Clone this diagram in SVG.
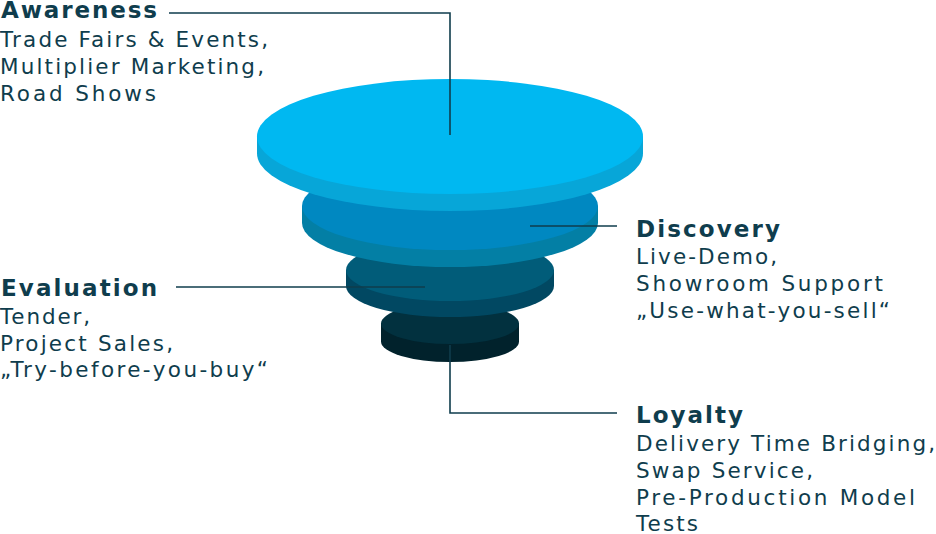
<svg xmlns="http://www.w3.org/2000/svg" width="936" height="534" viewBox="0 0 936 534">
<style>
  .h { font-family: "DejaVu Sans", "Open Sans", "Liberation Sans", sans-serif; font-weight: 700; font-size: 23px; fill: #0f3d4d; }
  .t { font-family: "DejaVu Sans", "Open Sans", "Liberation Sans", sans-serif; font-weight: 400; font-size: 21.5px; fill: #0f3d4d; }
  .ln { fill: none; stroke: #0f3d4d; stroke-width: 1.6; }
</style>
<rect width="936" height="534" fill="#ffffff"/>
<g id="funnel">
  <g id="layer-loyalty">
    <path d="M381,323.5 L381,341.5 A69,20.5 0 0 0 519,341.5 L519,323.5 Z" fill="#01222c"/>
    <ellipse cx="450" cy="323.5" rx="69" ry="20.5" fill="#02313f"/>
  </g>
  <g id="layer-evaluation">
    <path d="M346,270 L346,286 A104,31 0 0 0 554,286 L554,270 Z" fill="#014862"/>
    <ellipse cx="450" cy="270" rx="104" ry="31" fill="#015c79"/>
  </g>
  <g id="layer-discovery">
    <path d="M302,206 L302,223 A148,44 0 0 0 598,223 L598,206 Z" fill="#037fa5"/>
    <ellipse cx="450" cy="206" rx="148" ry="44" fill="#0088c1"/>
  </g>
  <g id="layer-awareness">
    <path d="M257,136.5 L257,153.5 A193,57.5 0 0 0 643,153.5 L643,136.5 Z" fill="#07a6d8"/>
    <ellipse cx="450" cy="136.5" rx="193" ry="57.5" fill="#00b8f1"/>
  </g>
</g>
<g id="connectors">
  <polyline class="ln" points="169,13 450,13 450,135"/>
  <line class="ln" x1="530" y1="226" x2="617" y2="226"/>
  <line class="ln" x1="176" y1="287" x2="425" y2="287"/>
  <polyline class="ln" points="450,345 450,413 617,413"/>
</g>
<g id="node-awareness">
  <text class="h" x="1" y="18" textLength="156" lengthAdjust="spacing">Awareness</text>
  <text class="t" x="0" y="47" textLength="268" lengthAdjust="spacing">Trade Fairs &amp; Events,</text>
  <text class="t" x="0" y="74" textLength="264" lengthAdjust="spacing">Multiplier Marketing,</text>
  <text class="t" x="0" y="101" textLength="156" lengthAdjust="spacing">Road Shows</text>
</g>
<g id="node-discovery">
  <text class="h" x="636" y="237" textLength="144" lengthAdjust="spacing">Discovery</text>
  <text class="t" x="636" y="264" textLength="141" lengthAdjust="spacing">Live-Demo,</text>
  <text class="t" x="636" y="291" textLength="247" lengthAdjust="spacing">Showroom Support</text>
  <text class="t" x="636" y="318" textLength="254" lengthAdjust="spacing">„Use-what-you-sell“</text>
</g>
<g id="node-evaluation">
  <text class="h" x="1" y="296" textLength="156" lengthAdjust="spacing">Evaluation</text>
  <text class="t" x="0" y="324" textLength="90" lengthAdjust="spacing">Tender,</text>
  <text class="t" x="0" y="351" textLength="173" lengthAdjust="spacing">Project Sales,</text>
  <text class="t" x="0" y="377" textLength="268" lengthAdjust="spacing">„Try-before-you-buy“</text>
</g>
<g id="node-loyalty">
  <text class="h" x="636" y="423" textLength="107" lengthAdjust="spacing">Loyalty</text>
  <text class="t" x="636" y="451" textLength="299" lengthAdjust="spacing">Delivery Time Bridging,</text>
  <text class="t" x="636" y="478" textLength="177" lengthAdjust="spacing">Swap Service,</text>
  <text class="t" x="636" y="505" textLength="279" lengthAdjust="spacing">Pre-Production Model</text>
  <text class="t" x="636" y="531" textLength="62" lengthAdjust="spacing">Tests</text>
</g>
</svg>
